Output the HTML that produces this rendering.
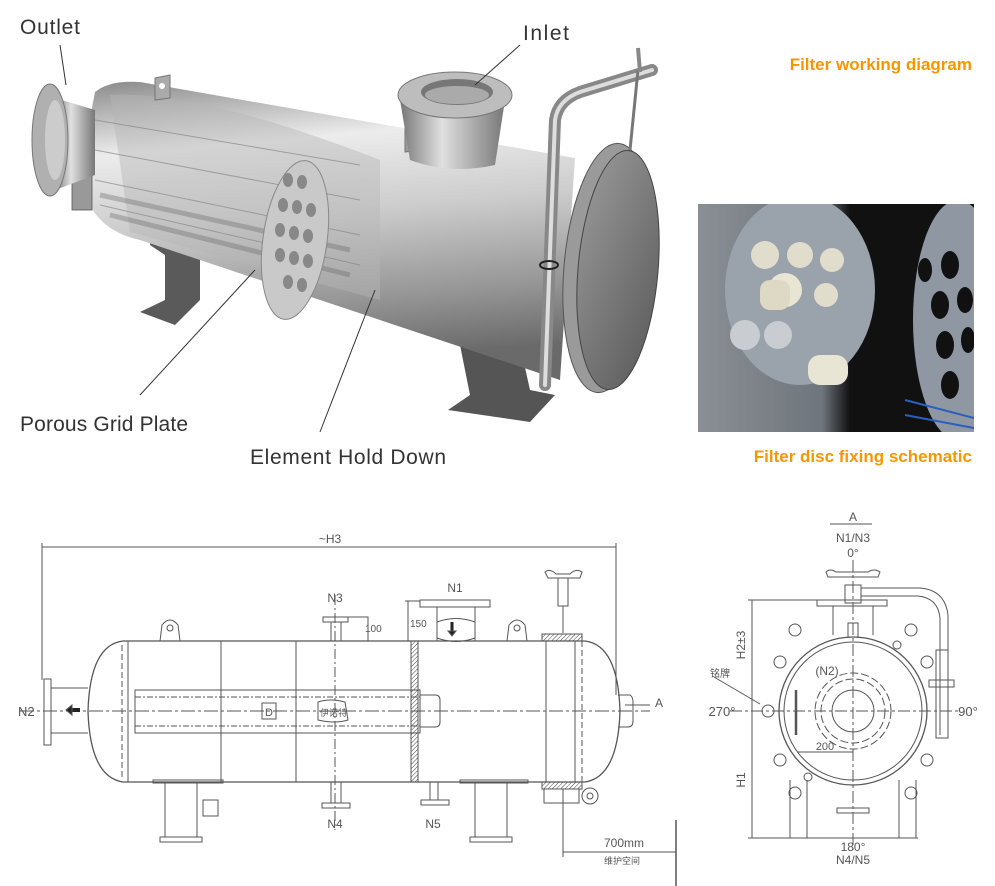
<!DOCTYPE html>
<html><head><meta charset="utf-8"><style>
html,body{margin:0;padding:0;background:#fff;}
svg{display:block;}
</style></head><body>
<svg width="995" height="886" viewBox="0 0 995 886" xmlns="http://www.w3.org/2000/svg">
<defs>
<linearGradient id="body" x1="0" y1="0" x2="0.15" y2="1">
<stop offset="0" stop-color="#8a8a8a"/><stop offset="0.25" stop-color="#ececec"/><stop offset="0.5" stop-color="#cdcdcd"/><stop offset="0.8" stop-color="#959595"/><stop offset="1" stop-color="#6a6a6a"/>
</linearGradient>
<linearGradient id="plate" x1="0" y1="0" x2="1" y2="1">
<stop offset="0" stop-color="#9a9a9a"/><stop offset="0.5" stop-color="#7a7a7a"/><stop offset="1" stop-color="#5a5a5a"/>
</linearGradient>
<linearGradient id="pipe" x1="0" y1="0" x2="1" y2="0">
<stop offset="0" stop-color="#777"/><stop offset="0.4" stop-color="#e0e0e0"/><stop offset="1" stop-color="#777"/>
</linearGradient>
<linearGradient id="photo" x1="0" y1="0" x2="1" y2="0">
<stop offset="0" stop-color="#8a8f95"/><stop offset="0.45" stop-color="#6f757c"/><stop offset="0.55" stop-color="#111"/><stop offset="1" stop-color="#111"/>
</linearGradient>
<clipPath id="pc"><rect x="698" y="204" width="276" height="228"/></clipPath>
<pattern id="hatch" width="3" height="3" patternUnits="userSpaceOnUse" patternTransform="rotate(45)"><line x1="0" y1="0" x2="0" y2="3" stroke="#444" stroke-width="1"/></pattern>
</defs>

<!-- ============ 3D render ============ -->
<polygon points="150,235 200,250 200,300 175,325 140,312 165,300 165,255 150,245" fill="#5a5a5a"/>
<polygon points="455,330 520,345 530,390 555,395 530,422 448,410 470,395 460,345" fill="#555"/>
<path d="M95,92 Q110,80 140,82 L575,158 L560,380 L140,240 Q85,228 80,170 Z" fill="url(#body)"/>
<path d="M110,95 Q200,90 380,160 L380,300 L130,232 Z" fill="#b5b5b5" opacity="0.45"/>
<g stroke="#888" stroke-width="1" opacity="0.7">
<line x1="95" y1="120" x2="360" y2="165"/><line x1="95" y1="150" x2="360" y2="200"/><line x1="95" y1="180" x2="360" y2="235"/><line x1="100" y1="205" x2="360" y2="265"/>
</g>
<g stroke="#666" stroke-width="5" opacity="0.35">
<line x1="100" y1="195" x2="350" y2="250"/><line x1="110" y1="215" x2="350" y2="275"/>
</g>
<rect x="72" y="165" width="20" height="45" fill="#999" stroke="#555" stroke-width="0.8"/>
<path d="M155,78 L170,75 L170,98 L155,100 Z" fill="#aaa" stroke="#777"/>
<circle cx="162" cy="86" r="3" fill="#fff"/>
<path d="M405,125 L420,122 L420,150 L405,152 Z" fill="#999" stroke="#777"/>
<circle cx="412" cy="135" r="3" fill="#fff"/>
<ellipse cx="295" cy="240" rx="32" ry="80" transform="rotate(8 295 240)" fill="#c9c9c9" stroke="#888"/>
<g fill="#888">
<ellipse cx="288" cy="180" rx="5" ry="7"/><ellipse cx="302" cy="182" rx="5" ry="7"/><ellipse cx="283" cy="205" rx="5" ry="7"/><ellipse cx="297" cy="207" rx="5" ry="7"/><ellipse cx="311" cy="210" rx="5" ry="7"/>
<ellipse cx="280" cy="230" rx="5" ry="7"/><ellipse cx="294" cy="233" rx="5" ry="7"/><ellipse cx="308" cy="236" rx="5" ry="7"/><ellipse cx="280" cy="255" rx="5" ry="7"/><ellipse cx="294" cy="258" rx="5" ry="7"/><ellipse cx="308" cy="261" rx="5" ry="7"/><ellipse cx="288" cy="282" rx="5" ry="7"/><ellipse cx="302" cy="285" rx="5" ry="7"/>
</g>
<path d="M55,98 L95,110 L95,175 L55,190 Z" fill="url(#pipe)"/>
<ellipse cx="50" cy="140" rx="18" ry="56" fill="#b0b0b0" stroke="#777"/>
<ellipse cx="55" cy="140" rx="10" ry="40" fill="#ccc"/>
<path d="M400,100 L505,100 L495,165 Q450,175 410,160 Z" fill="url(#pipe)"/>
<ellipse cx="455" cy="95" rx="57" ry="23" fill="#bdbdbd" stroke="#777"/>
<ellipse cx="457" cy="92" rx="36" ry="13" fill="#777"/>
<ellipse cx="457" cy="95" rx="32" ry="9" fill="#aaa"/>
<ellipse cx="608" cy="268" rx="44" ry="125" transform="rotate(5 608 268)" fill="#9a9a9a" stroke="#555"/>
<ellipse cx="618" cy="270" rx="40" ry="120" transform="rotate(5 618 270)" fill="url(#plate)" stroke="#444"/>
<path d="M545,385 L555,120 Q558,100 580,92 L652,70" fill="none" stroke="#888" stroke-width="12" stroke-linecap="round"/>
<path d="M545,385 L555,120 Q558,100 580,92 L652,70" fill="none" stroke="#ddd" stroke-width="4" stroke-linecap="round"/>
<line x1="638" y1="70" x2="630" y2="150" stroke="#777" stroke-width="3"/>
<line x1="638" y1="48" x2="640" y2="72" stroke="#888" stroke-width="4"/>
<ellipse cx="549" cy="265" rx="9" ry="4" fill="none" stroke="#222" stroke-width="2"/>

<g font-family="Liberation Sans, sans-serif" fill="#333" font-size="21">
<text x="20" y="34" textLength="60">Outlet</text>
<text x="523" y="40" textLength="46">Inlet</text>
<text x="20" y="431" textLength="168">Porous Grid Plate</text>
<text x="250" y="464" textLength="196">Element Hold Down</text>
</g>
<g stroke="#333" stroke-width="1" fill="none">
<line x1="60" y1="45" x2="66" y2="85"/>
<line x1="520" y1="45" x2="475" y2="85"/>
<line x1="140" y1="395" x2="255" y2="270"/>
<line x1="320" y1="432" x2="375" y2="290"/>
</g>
<g font-family="Liberation Sans, sans-serif" fill="#f39800" font-size="17" font-weight="bold" text-anchor="end">
<text x="972" y="70">Filter working diagram</text>
<text x="972" y="462">Filter disc fixing schematic</text>
</g>

<!-- photo -->
<g clip-path="url(#pc)">
<rect x="698" y="204" width="276" height="228" fill="url(#photo)"/>
<ellipse cx="800" cy="290" rx="75" ry="95" fill="#9aa3ab"/>
<circle cx="765" cy="255" r="14" fill="#e0ddcc"/><circle cx="800" cy="255" r="13" fill="#e0ddcc"/><circle cx="832" cy="260" r="12" fill="#e0ddcc"/>
<circle cx="785" cy="290" r="17" fill="#e8e5d5"/><circle cx="826" cy="295" r="12" fill="#e0ddcc"/>
<circle cx="745" cy="335" r="15" fill="#c9ccd0"/><circle cx="778" cy="335" r="14" fill="#c9ccd0"/>
<rect x="808" y="355" width="40" height="30" rx="12" fill="#e8e5d5"/>
<rect x="760" y="280" width="30" height="30" rx="10" fill="#ddd9c5"/>
<ellipse cx="958" cy="320" rx="45" ry="120" fill="#8f98a2"/>
<g fill="#111"><ellipse cx="950" cy="265" rx="9" ry="14"/><ellipse cx="940" cy="305" rx="9" ry="14"/><ellipse cx="965" cy="300" rx="8" ry="13"/><ellipse cx="945" cy="345" rx="9" ry="14"/><ellipse cx="968" cy="340" rx="7" ry="13"/><ellipse cx="950" cy="385" rx="9" ry="14"/><ellipse cx="925" cy="270" rx="7" ry="12"/></g>
<line x1="905" y1="400" x2="974" y2="418" stroke="#2b5fbf" stroke-width="2"/>
<line x1="905" y1="415" x2="974" y2="428" stroke="#2b5fbf" stroke-width="2"/>
</g>

<!-- ============ Side drawing ============ -->
<g stroke="#555" stroke-width="1" fill="none" font-family="Liberation Sans, sans-serif">
<line x1="42" y1="547" x2="616" y2="547"/>
<line x1="42" y1="543" x2="42" y2="680"/>
<line x1="616" y1="543" x2="616" y2="695"/>
<path d="M123,641 L585,641 Q618,645 620,711 Q618,777 585,782 L123,782 Q90,777 88,711 Q90,645 123,641 Z" stroke-width="1.3"/>
<line x1="128" y1="641" x2="128" y2="782"/>
<line x1="221" y1="641" x2="221" y2="782"/>
<line x1="546" y1="641" x2="546" y2="782"/>
<line x1="575" y1="641" x2="575" y2="782"/>
<line x1="582" y1="641" x2="582" y2="782" stroke-dasharray="6,3"/>
<line x1="122" y1="645" x2="122" y2="778" stroke-dasharray="6,3"/>
<line x1="296" y1="641" x2="296" y2="782"/>
<rect x="135" y="690" width="285" height="43"/>
<line x1="135" y1="697" x2="420" y2="697" stroke-dasharray="6,2,2,2"/>
<line x1="135" y1="726" x2="420" y2="726" stroke-dasharray="6,2,2,2"/>
<line x1="20" y1="711" x2="650" y2="711" stroke-dasharray="14,3,3,3"/>
<rect x="262" y="703" width="14" height="16"/>
<path d="M318,702 Q330,698 345,702 L348,720 Q335,724 318,720 Z"/>
<rect x="411" y="641" width="7" height="141" fill="url(#hatch)"/>
<path d="M420,695 L435,695 Q440,695 440,700 L440,722 Q440,727 435,727 L420,727"/>
<path d="M618,695 L630,695 Q633,697 633,702 L633,721 Q633,727 628,727 L618,727"/>
<rect x="542" y="634" width="40" height="7" fill="url(#hatch)"/>
<rect x="542" y="782" width="40" height="7" fill="url(#hatch)"/>
<rect x="44" y="679" width="7" height="66"/>
<path d="M51,688 L88,688 M51,733 L88,733"/>
<path d="M72,710 L80,710" stroke="#222" stroke-width="4"/>
<path d="M66,710 L72,705 L72,715 Z" fill="#222"/>
<rect x="323" y="617" width="25" height="5"/>
<path d="M331,622 L331,641 M341,622 L341,641"/>
<line x1="335" y1="595" x2="335" y2="830" stroke-dasharray="10,3,2,3"/>
<path d="M348,617 L368,617 L368,641"/>
<rect x="420" y="600" width="70" height="7"/>
<path d="M437,607 L437,641 M475,607 L475,641"/>
<path d="M408,601 L408,641 M405,601 L420,601"/>
<path d="M437,622 Q456,615 475,622 M437,638 Q456,645 475,638"/>
<path d="M452,622 L452,632" stroke="#222" stroke-width="3"/>
<path d="M448,631 L456,631 L452,636 Z" fill="#222"/>
<path d="M160,641 L162,625 Q170,615 178,625 L180,641"/><circle cx="170" cy="628" r="3"/>
<path d="M507,641 L509,625 Q517,615 525,625 L527,641"/><circle cx="517" cy="628" r="3"/>
<path d="M545,572 Q550,568 556,574 L570,574 Q576,568 582,572 L580,578 L548,578 Z"/>
<rect x="558" y="578" width="10" height="28"/>
<line x1="563" y1="606" x2="563" y2="633"/>
<rect x="165" y="782" width="32" height="55"/><rect x="160" y="837" width="42" height="5"/>
<rect x="475" y="782" width="32" height="55"/><rect x="470" y="837" width="42" height="5"/>
<rect x="153" y="780" width="70" height="3"/><rect x="460" y="780" width="68" height="3"/>
<rect x="203" y="800" width="15" height="16"/>
<path d="M331,782 L331,803 M341,782 L341,803"/><rect x="322" y="803" width="28" height="5"/>
<path d="M430,782 L430,800 M438,782 L438,800"/><rect x="421" y="800" width="28" height="5"/>
<rect x="544" y="789" width="35" height="14"/>
<circle cx="590" cy="796" r="8"/><circle cx="590" cy="796" r="3"/>
<line x1="563" y1="789" x2="563" y2="857"/>
<line x1="563" y1="852" x2="676" y2="852"/>
<line x1="676" y1="820" x2="676" y2="886" stroke-width="1.5"/>
<line x1="625" y1="705" x2="650" y2="705"/>
</g>
<g font-family="Liberation Sans, sans-serif" fill="#555" font-size="11">
<text x="330" y="543" text-anchor="middle" font-size="12">~H3</text>
<text x="18" y="716" font-size="13">N2</text>
<text x="335" y="602" text-anchor="middle" font-size="12">N3</text>
<text x="455" y="592" text-anchor="middle" font-size="12">N1</text>
<text x="365" y="632" font-size="10">100</text>
<text x="410" y="627" font-size="10">150</text>
<text x="265" y="716" font-size="11">D</text>
<text x="320" y="716" font-size="9" font-family="Liberation Sans, 'Noto Sans CJK SC', sans-serif">伊诺特</text>
<text x="335" y="828" text-anchor="middle" font-size="12">N4</text>
<text x="433" y="828" text-anchor="middle" font-size="12">N5</text>
<text x="655" y="707" font-size="12">A</text>
<text x="604" y="847" font-size="12">700mm</text>
<text x="604" y="864" font-size="9" font-family="Liberation Sans, 'Noto Sans CJK SC', sans-serif">维护空间</text>
</g>

<!-- ============ End view ============ -->
<g stroke="#555" stroke-width="1" fill="none">
<line x1="830" y1="524" x2="872" y2="524"/>
<circle cx="853" cy="711" r="74" stroke-width="1.3"/>
<circle cx="853" cy="711" r="69"/>
<circle cx="853" cy="711" r="38" stroke-dasharray="8,3"/>
<circle cx="853" cy="711" r="32" stroke-dasharray="8,3"/>
<circle cx="853" cy="711" r="21"/>
<line x1="853" y1="560" x2="853" y2="850" stroke-dasharray="12,3,3,3"/>
<line x1="730" y1="711" x2="960" y2="711" stroke-dasharray="12,3,3,3"/>
<path d="M826,572 Q830,568 836,572 L868,572 Q874,568 880,572 L878,577 L828,577 Z"/>
<rect x="845" y="585" width="16" height="18"/>
<rect x="817" y="600" width="70" height="6"/>
<path d="M833,606 L833,635 M873,606 L873,635"/>
<rect x="848" y="623" width="10" height="14"/>
<path d="M861,588 L920,588 Q945,590 948,615 L948,735 M861,596 L918,596 Q938,598 940,618 L940,735"/>
<rect x="936" y="650" width="12" height="88"/>
<rect x="929" y="680" width="25" height="7"/>
<line x1="752" y1="600" x2="752" y2="838"/>
<line x1="748" y1="600" x2="845" y2="600"/>
<line x1="748" y1="838" x2="918" y2="838"/>
<line x1="797" y1="752" x2="853" y2="752"/>
<line x1="796" y1="690" x2="796" y2="735" stroke-width="2.5"/>
<path d="M790,780 L790,838 M807,780 L807,838 M899,780 L899,838 M916,780 L916,838"/>
<rect x="837" y="808" width="32" height="5"/>
<g stroke="#555">
<circle cx="795" cy="630" r="6"/><circle cx="911" cy="630" r="6"/>
<circle cx="780" cy="662" r="6"/><circle cx="927" cy="662" r="6"/>
<circle cx="780" cy="760" r="6"/><circle cx="927" cy="760" r="6"/>
<circle cx="795" cy="793" r="6"/><circle cx="911" cy="793" r="6"/>
<circle cx="768" cy="711" r="6"/>
<circle cx="897" cy="645" r="4"/><circle cx="808" cy="777" r="4"/>
</g>
<line x1="714" y1="677" x2="760" y2="704"/>
</g>
<g font-family="Liberation Sans, sans-serif" fill="#555" font-size="12" text-anchor="middle">
<text x="853" y="521">A</text>
<text x="853" y="542">N1/N3</text>
<text x="853" y="557">0°</text>
<text x="722" y="716" font-size="13">270°</text>
<text x="968" y="716" font-size="13">90°</text>
<text x="827" y="675">(N2)</text>
<text x="825" y="750" font-size="11">200</text>
<text x="853" y="851">180°</text>
<text x="853" y="864">N4/N5</text>
<text x="720" y="677" font-size="10" font-family="Liberation Sans, 'Noto Sans CJK SC', sans-serif">铭牌</text>
<text x="745" y="645" transform="rotate(-90 745 645)">H2±3</text>
<text x="745" y="780" transform="rotate(-90 745 780)">H1</text>
</g>
</svg>
</body></html>
